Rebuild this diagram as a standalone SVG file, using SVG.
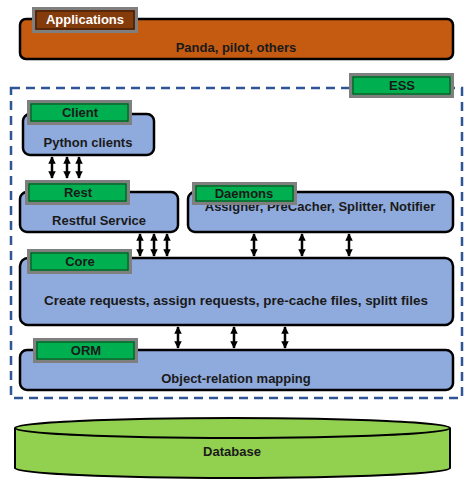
<svg xmlns="http://www.w3.org/2000/svg" width="473" height="486" viewBox="0 0 473 486">
<defs>
<marker id="ah" viewBox="0 0 10 10" refX="9" refY="5" markerWidth="3" markerHeight="3" orient="auto-start-reverse" markerUnits="strokeWidth">
<path d="M0,0 L10,5 L0,10 z" fill="#000"/>
</marker>
<style>
text{font-family:"Liberation Sans",Arial,sans-serif;font-weight:bold;font-size:13px;fill:#1a1a1a;text-anchor:middle}
.box{fill:#8FAADC;stroke:#000;stroke-width:2.5}
.tabo{fill:#00B050;stroke:#7F7F7F;stroke-width:3}
.tabi{fill:none;stroke:#1E3A1E;stroke-width:1}
.conn line{stroke:#000;stroke-width:2.5;marker-start:url(#ah);marker-end:url(#ah)}
</style>
</defs>
<rect width="473" height="486" fill="#fff"/>

<g id="applications">
<rect x="20" y="19" width="433" height="40" rx="6" fill="#C55A11" stroke="#000" stroke-width="2.5"/>
<rect x="33.5" y="8.5" width="103" height="23" fill="#843C0C" stroke="#7F7F7F" stroke-width="3"/>
<rect x="36" y="11" width="98" height="18" fill="none" stroke="#2a1000" stroke-width="1"/>
<text x="85" y="24" style="fill:#fff">Applications</text>
<text x="236" y="52">Panda, pilot, others</text>
</g>

<g id="ess">
<rect x="11" y="88" width="451" height="310" fill="none" stroke="#2F5597" stroke-width="2.5" stroke-dasharray="9,6"/>
<rect x="350.5" y="74.5" width="102" height="22" class="tabo"/>
<rect x="353" y="77" width="97" height="17" class="tabi"/>
<text x="402" y="90">ESS</text>
</g>

<g id="client">
<rect x="23" y="114" width="131" height="41" rx="7" class="box"/>
<rect x="28.5" y="101.5" width="102" height="22" class="tabo"/>
<rect x="31" y="104" width="97" height="17" class="tabi"/>
<text x="80" y="117">Client</text>
<text x="88" y="147">Python clients</text>
</g>

<g id="rest">
<rect x="20" y="192" width="158" height="40" rx="7" class="box"/>
<rect x="26.5" y="181.5" width="102" height="22" class="tabo"/>
<rect x="29" y="184" width="97" height="17" class="tabi"/>
<text x="78" y="197">Rest</text>
<text x="99" y="225">Restful Service</text>
</g>

<g id="daemons">
<rect x="188" y="192" width="265" height="40" rx="7" class="box"/>
<text x="320" y="211">Assigner, PreCacher, Splitter, Notifier</text>
<rect x="193.5" y="183.5" width="102" height="20" class="tabo"/>
<rect x="196" y="186" width="97" height="15" class="tabi"/>
<text x="244" y="198">Daemons</text>
</g>

<g id="core">
<rect x="20" y="258" width="433" height="67" rx="8" class="box"/>
<rect x="28.5" y="250.5" width="102" height="22" class="tabo"/>
<rect x="31" y="253" width="97" height="17" class="tabi"/>
<text x="80" y="266">Core</text>
<text x="236" y="305" textLength="384" lengthAdjust="spacingAndGlyphs">Create requests, assign requests, pre-cache files, splitt files</text>
</g>

<g id="orm">
<rect x="20" y="350" width="433" height="40" rx="7" class="box"/>
<rect x="34.5" y="339.5" width="102" height="22" class="tabo"/>
<rect x="37" y="342" width="97" height="17" class="tabi"/>
<text x="86" y="355">ORM</text>
<text x="236" y="383">Object-relation mapping</text>
</g>

<g id="database">
<path d="M15,428 L15,468 A217.5,10 0 0 0 450,468 L450,428" fill="#92D050" stroke="#000" stroke-width="2"/>
<ellipse cx="232.5" cy="428" rx="217.5" ry="10" fill="#92D050" stroke="#000" stroke-width="2"/>
<text x="232" y="456">Database</text>
</g>

<g id="connectors" class="conn">
<line x1="52" y1="157" x2="52" y2="178"/>
<line x1="67" y1="157" x2="67" y2="178"/>
<line x1="79" y1="157" x2="79" y2="178"/>
<line x1="140" y1="234" x2="140" y2="256"/>
<line x1="154" y1="234" x2="154" y2="256"/>
<line x1="167" y1="234" x2="167" y2="256"/>
<line x1="254" y1="234" x2="254" y2="256"/>
<line x1="302" y1="234" x2="302" y2="256"/>
<line x1="349" y1="234" x2="349" y2="256"/>
<line x1="178" y1="327" x2="178" y2="348"/>
<line x1="234" y1="327" x2="234" y2="348"/>
<line x1="285" y1="327" x2="285" y2="348"/>
</g>
</svg>
